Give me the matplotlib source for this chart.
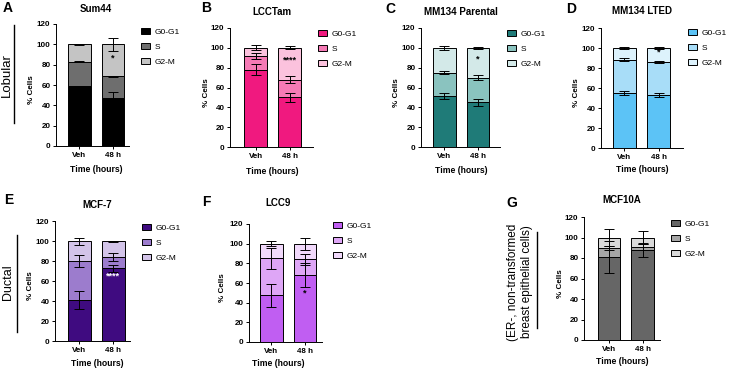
import numpy as np
import matplotlib
matplotlib.use('Agg')
import matplotlib.pyplot as plt
from matplotlib.patches import Patch
from matplotlib.lines import Line2D

plt.rcParams['font.family'] = ['Liberation Sans', 'DejaVu Sans']

W, H = 729, 371

# ---------------------------------------------------------------- data
categories = ['Veh', '48 h']
phases = ['G0-G1', 'S', 'G2-M']

# segment heights (% cells) for Veh / 48 h
sum44_g0 = [59, 47]
sum44_s = [24, 21.5]
sum44_g2 = [17, 31.5]
sum44_err = [[0.5, 6], [0.5, 0.5], [0.5, 6.5]]

lcctam_g0 = [78, 50]
lcctam_s = [14, 18]
lcctam_g2 = [8, 32]
lcctam_err = [[5.5, 4.5], [3, 3.5], [2.5, 1.5]]

mm134p_g0 = [51, 45]
mm134p_s = [24, 25]
mm134p_g2 = [25, 30]
mm134p_err = [[3, 3.8], [1.5, 2.5], [2, 1]]

mm134l_g0 = [55.5, 53.5]
mm134l_s = [33, 32.3]
mm134l_g2 = [11.5, 14.2]
mm134l_err = [[2, 2], [1.5, 0.8], [1.2, 1.2]]

mcf7_g0 = [41, 73]
mcf7_s = [39.5, 11.5]
mcf7_g2 = [19.5, 15.5]
mcf7_err = [[9, 3.5], [6, 4], [3.5, 0.5]]

lcc9_g0 = [47.5, 68]
lcc9_s = [37.5, 16]
lcc9_g2 = [15, 16]
lcc9_err = [[11.5, 12], [11, 6], [2.5, 6]]

mcf10a_g0 = [81, 88]
mcf10a_s = [9, 3]
mcf10a_g2 = [10, 9]
mcf10a_err = [[16, 7], [2, 3], [8, 6]]

# significance marks: (text, y, colour)
stars = {'A': ('*', 87, 'black'), 'B': ('****', 88, 'black'), 'C': ('*', 89, 'black'),
         'D': ('*', 95.5, 'black'), 'E': ('****', 65, 'white'), 'F': ('*', 50, 'black')}

# ---------------------------------------------------------------- layout (pixels)
panels = [
    # letter, title, data, colours, axes box (left, right, top, bottom), xlim, legend xy, title xy, ylabel x, xlabel y
    ('A', 'Sum44', (sum44_g0, sum44_s, sum44_g2, sum44_err), ['#000000', '#6e6e6e', '#c4c4c4'],
     (56, 129, 24, 146), (-0.70, 1.48), (141, 28), (96, 9), 32, 170),
    ('B', 'LCCTam', (lcctam_g0, lcctam_s, lcctam_g2, lcctam_err), ['#f0197f', '#f57ab5', '#fbc2dd'],
     (230, 313, 28, 147), (-0.75, 1.69), (318, 30), (272, 12), 207, 172),
    ('C', 'MM134 Parental', (mm134p_g0, mm134p_s, mm134p_g2, mm134p_err), ['#1f7b78', '#8ac3bf', '#d3e9e8'],
     (421, 500, 28, 147), (-0.70, 1.66), (507, 30), (461, 12), 396, 171),
    ('D', 'MM134 LTED', (mm134l_g0, mm134l_s, mm134l_g2, mm134l_err), ['#5cc3f6', '#a8ddf8', '#ddf2fc'],
     (601, 683, 28, 148), (-0.69, 1.72), (688, 29), (642, 11), 576, 170),
    ('E', 'MCF-7', (mcf7_g0, mcf7_s, mcf7_g2, mcf7_err), ['#3f0b80', '#9c7ccd', '#d3c4e9'],
     (55, 130, 221, 341), (-0.72, 1.49), (142, 224), (97, 205), 31, 364),
    ('F', 'LCC9', (lcc9_g0, lcc9_s, lcc9_g2, lcc9_err), ['#c05ef2', '#dea6f6', '#f1d9fb'],
     (249, 322, 224, 342), (-0.67, 1.51), (333, 222), (278, 203), 222, 364),
    ('G', 'MCF10A', (mcf10a_g0, mcf10a_s, mcf10a_g2, mcf10a_err), ['#666666', '#a6a6a6', '#d9d9d9'],
     (584, 660, 217, 340), (-0.75, 1.52), (671, 220), (622, 200), 560, 362),
]
letter_xy = {'A': (8, 8), 'B': (206, 8), 'C': (390, 9), 'D': (571, 9),
             'E': (9, 200), 'F': (206, 202), 'G': (512, 203)}


def fx(x):
    return x / W


def fy(y):
    return 1 - y / H


fig = plt.figure(figsize=(W / 100, H / 100), dpi=100)
x = np.arange(len(categories))
lw = 0.7

for letter, title, (g0, s, g2, err), cols, box, xl, leg, tpos, ylx, xly in panels:
    l, r, t, b = box
    ax = fig.add_axes([fx(l), fy(b), (r - l) / W, (b - t) / H])
    g0 = np.array(g0)
    s = np.array(s)
    g2 = np.array(g2)
    ax.bar(x, g0, width=0.67, color=cols[0], edgecolor='black', linewidth=lw, zorder=2)
    ax.bar(x, s, width=0.67, bottom=g0, color=cols[1], edgecolor='black', linewidth=lw, zorder=2)
    ax.bar(x, g2, width=0.67, bottom=g0 + s, color=cols[2], edgecolor='black', linewidth=lw, zorder=2)
    tops = [g0, g0 + s, g0 + s + g2]
    for k in range(3):
        ax.errorbar(x, tops[k], yerr=err[k], fmt='none', ecolor='black', elinewidth=lw,
                    capsize=3.6, capthick=lw, zorder=3)
    if letter in stars:
        txt, sy, sc = stars[letter]
        ax.text(1, sy, txt, ha='center', va='center', fontsize=6.5, fontweight='bold', color=sc, zorder=4)
    ax.set_ylim(0, 120)
    ax.set_xlim(*xl)
    ax.set_yticks(np.arange(0, 121, 20))
    ax.set_xticks(x)
    ax.set_xticklabels(categories)
    for sp in ['top', 'right']:
        ax.spines[sp].set_visible(False)
    for sp in ['left', 'bottom']:
        ax.spines[sp].set_linewidth(lw)
    ax.tick_params(length=2.5, width=lw, labelsize=5.8, pad=1.5)
    for lab in ax.get_xticklabels() + ax.get_yticklabels():
        lab.set_fontweight('bold')

    handles = [Patch(facecolor=c, edgecolor='black', linewidth=lw) for c in cols]
    ax.legend(handles, phases, loc='upper left', bbox_to_anchor=(fx(leg[0]), fy(leg[1])),
              bbox_transform=fig.transFigure, frameon=False, fontsize=6,
              handlelength=1.1, handleheight=0.8, labelspacing=0.8, borderpad=0,
              borderaxespad=0, handletextpad=0.5)

    fig.text(fx(tpos[0]), fy(tpos[1]), title, ha='center', va='center', fontsize=7, fontweight='bold')
    fig.text(fx(ylx), fy((t + b) / 2 + 5), '% Cells', ha='center', va='center', rotation=90,
             fontsize=5.8, fontweight='bold')
    fig.text(fx(tpos[0]), fy(xly), 'Time (hours)', ha='center', va='center', fontsize=6.2,
             fontweight='bold')
    lx, ly = letter_xy[letter]
    fig.text(fx(lx), fy(ly), letter, ha='center', va='center', fontsize=10, fontweight='bold')

# row labels with vertical bars
fig.text(fx(7), fy(75), 'Lobular', rotation=90, ha='center', va='center', fontsize=9.5)
fig.add_artist(Line2D([fx(14), fx(14)], [fy(25), fy(123)], color='black', lw=1.0))
fig.text(fx(8), fy(282), 'Ductal', rotation=90, ha='center', va='center', fontsize=9)
fig.add_artist(Line2D([fx(17), fx(17)], [fy(235), fy(332)], color='black', lw=1.0))
fig.text(fx(520), fy(282), '(ER-, non-transformed\nbreast epithelial cells)', rotation=90,
         ha='center', va='center', fontsize=8.5, linespacing=1.15)
fig.add_artist(Line2D([fx(537), fx(537)], [fy(232), fy(328)], color='black', lw=1.0))

fig.savefig('out.png', dpi=100)
